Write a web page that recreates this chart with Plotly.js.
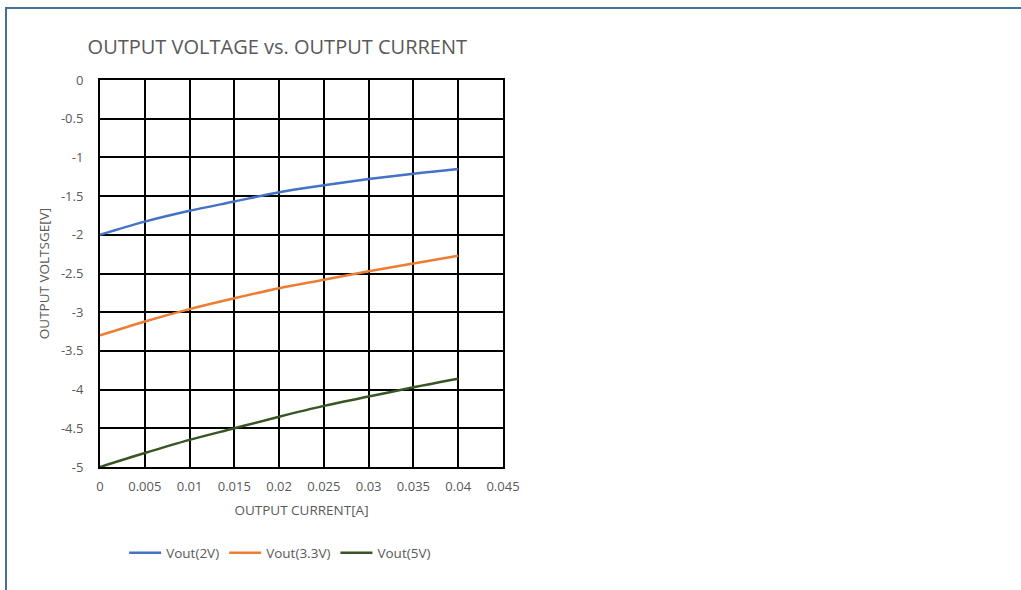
<!DOCTYPE html>
<html>
<head>
<meta charset="utf-8">
<script src="https://cdn.plot.ly/plotly-3.0.1.min.js"></script>
<style>
  html, body { margin: 0; padding: 0; background: #fff; }
  #frame { position: absolute; left: 5px; top: 7px; width: 1030px; height: 600px;
           border-top: 2px solid #41719C; border-left: 2px solid #41719C; }
  #chart { position: absolute; left: 0; top: 0; width: 1021px; height: 590px; }
</style>
</head>
<body>
<div id="frame"></div>
<div id="chart"></div>
<script>
const current = [0, 0.005, 0.01, 0.015, 0.02, 0.025, 0.03, 0.035, 0.04];
const vout2V  = [-2.00, -1.83, -1.69, -1.57, -1.45, -1.36, -1.28, -1.21, -1.15];
const vout33V = [-3.30, -3.12, -2.96, -2.82, -2.69, -2.58, -2.47, -2.37, -2.27];
const vout5V  = [-5.00, -4.82, -4.65, -4.50, -4.35, -4.21, -4.09, -3.97, -3.86];
const seriesNames = ['Vout(2V)', 'Vout(3.3V)', 'Vout(5V)'];
const xTickVals = [0, 0.005, 0.01, 0.015, 0.02, 0.025, 0.03, 0.035, 0.04, 0.045];
const xTickLabels = ['0', '0.005', '0.01', '0.015', '0.02', '0.025', '0.03', '0.035', '0.04', '0.045'];
const yTickVals = [0, -0.5, -1, -1.5, -2, -2.5, -3, -3.5, -4, -4.5, -5];
const yTickLabels = ['0', '-0.5', '-1', '-1.5', '-2', '-2.5', '-3', '-3.5', '-4', '-4.5', '-5'];

const colors = ['#4472C4', '#ED7D31', '#375623'];
const ys = [vout2V, vout33V, vout5V];
const traces = ys.map((y, i) => ({
  x: current, y: y, name: seriesNames[i], type: 'scatter', mode: 'lines',
  line: { color: colors[i], width: 2.5, shape: 'spline' }
}));

const font = { family: '"Open Sans", sans-serif', color: '#595959' };
const layout = {
  width: 1021, height: 590,
  margin: { l: 100, r: 518, t: 80, b: 123 },
  paper_bgcolor: 'rgba(0,0,0,0)', plot_bgcolor: '#fff',
  font: Object.assign({ size: 12 }, font),
  title: { text: 'OUTPUT VOLTAGE vs. OUTPUT CURRENT', font: Object.assign({ size: 20 }, font),
           xref: 'paper', x: 0.44, xanchor: 'center', yref: 'container', y: 0.921, yanchor: 'middle' },
  xaxis: {
    range: [0, 0.045], tickvals: xTickVals, ticktext: xTickLabels,
    showgrid: true, gridcolor: '#000', gridwidth: 2, zeroline: false,
    showline: true, mirror: true, linecolor: '#000', linewidth: 2,
    ticks: 'outside', ticklen: 6, tickcolor: 'rgba(0,0,0,0)',
    tickfont: Object.assign({ size: 13 }, font),
    title: { text: 'OUTPUT CURRENT[A]', font: Object.assign({ size: 13.5 }, font), standoff: 12 }
  },
  yaxis: {
    range: [-5, 0], tickvals: yTickVals, ticktext: yTickLabels,
    showgrid: true, gridcolor: '#000', gridwidth: 2, zeroline: false,
    showline: true, mirror: true, linecolor: '#000', linewidth: 2,
    ticks: 'outside', ticklen: 12, tickcolor: 'rgba(0,0,0,0)',
    tickfont: Object.assign({ size: 13 }, font),
    title: { text: 'OUTPUT VOLTSGE[V]', font: Object.assign({ size: 13.5 }, font), standoff: 8 }
  },
  showlegend: true,
  legend: { orientation: 'h', x: 0.447, xanchor: 'center', y: -0.182, yanchor: 'top',
            font: Object.assign({ size: 13.5 }, font), itemwidth: 32, itemgap: 21, traceorder: 'normal' }
};
Plotly.newPlot('chart', traces, layout, { displayModeBar: false, staticPlot: true });
</script>
</body>
</html>
